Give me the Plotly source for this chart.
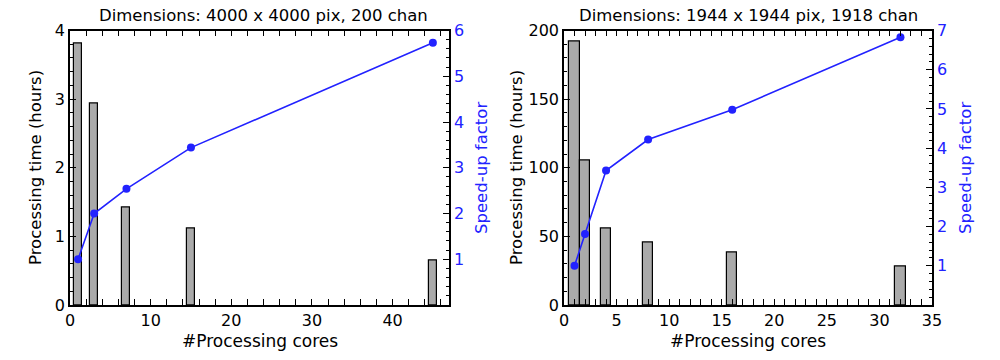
import plotly.graph_objects as go
from plotly.subplots import make_subplots

# Left panel: 4000 x 4000 pix, 200 chan
cores_a = [1, 3, 7, 15, 45]
time_a = [3.81, 2.93, 1.42, 1.11, 0.65]
speed_a = [1.0, 2.0, 2.54, 3.44, 5.73]

# Right panel: 1944 x 1944 pix, 1918 chan
cores_b = [1, 2, 4, 8, 16, 32]
time_b = [192, 105, 56, 45.5, 38.5, 28]
speed_b = [1.0, 1.81, 3.43, 4.22, 4.98, 6.83]

titles = ["Dimensions: 4000 x 4000 pix, 200 chan",
          "Dimensions: 1944 x 1944 pix, 1918 chan"]

FONT = "DejaVu Sans"
BLUE = "#2222ff"
BAR = "#aaaaaa"

W, H = 1000, 360


def fx(px):
    return px / W


def fy(py):
    return 1 - py / H


fig = make_subplots(rows=1, cols=2, specs=[[{"secondary_y": True}, {"secondary_y": True}]])

for col, (cx, tt, sp) in enumerate([(cores_a, time_a, speed_a), (cores_b, time_b, speed_b)], start=1):
    fig.add_trace(go.Bar(x=cx, y=tt, width=1, marker=dict(color=BAR, line=dict(color="black", width=1.2)),
                         showlegend=False), row=1, col=col, secondary_y=False)
    fig.add_trace(go.Scatter(x=cx, y=sp, mode="lines+markers", line=dict(color=BLUE, width=1.6),
                             marker=dict(color=BLUE, size=8), showlegend=False),
                  row=1, col=col, secondary_y=True)

ydom = [fy(305), fy(30.5)]
tickfont = dict(family=FONT, size=16, color="black")
common_axis = dict(showgrid=False, zeroline=False, showline=True, linecolor="black", linewidth=1.5,
                   ticks="inside", ticklen=6, tickwidth=1.2, tickcolor="black", tickfont=tickfont,
                   automargin=False)
blue_axis = {**common_axis, "tickfont": dict(family=FONT, size=16, color=BLUE)}

fig.update_layout(
    width=W, height=H, margin=dict(l=0, r=0, t=0, b=0, autoexpand=False),
    paper_bgcolor="white", plot_bgcolor="white", bargap=0,
    font=dict(family=FONT, size=16, color="black"),
    xaxis=dict(domain=[fx(70), fx(449)], range=[0, 47], dtick=10, mirror="allticks",
               minor=dict(dtick=2, ticks="inside", ticklen=3, tickcolor="black"), **common_axis),
    yaxis=dict(domain=ydom, range=[0, 4], dtick=1,
               minor=dict(dtick=0.2, ticks="inside", ticklen=3, tickcolor="black"), **common_axis),
    yaxis2=dict(range=[0, 6], tickvals=[1, 2, 3, 4, 5, 6], side="right", overlaying="y",
                minor=dict(dtick=0.2, ticks="inside", ticklen=3, tickcolor="black"), **blue_axis),
    xaxis2=dict(domain=[fx(564), fx(932)], range=[0, 35], dtick=5, mirror="allticks",
                minor=dict(dtick=1, ticks="inside", ticklen=3, tickcolor="black"), **common_axis),
    yaxis3=dict(domain=ydom, range=[0, 200], dtick=50,
                minor=dict(dtick=10, ticks="inside", ticklen=3, tickcolor="black"), **common_axis),
    yaxis4=dict(range=[0, 7], tickvals=[1, 2, 3, 4, 5, 6, 7], side="right", overlaying="y3",
                minor=dict(dtick=0.2, ticks="inside", ticklen=3, tickcolor="black"), **blue_axis),
)

annotations = [
    dict(text=titles[0], x=263, y=16, size=16.5, angle=0, color="black"),
    dict(text=titles[1], x=748, y=16, size=16.5, angle=0, color="black"),
    dict(text="#Processing cores", x=260, y=341, size=17, angle=0, color="black"),
    dict(text="#Processing cores", x=748, y=341, size=17, angle=0, color="black"),
    dict(text="Processing time (hours)", x=35, y=168, size=16.5, angle=-90, color="black"),
    dict(text="Processing time (hours)", x=516, y=168, size=16.5, angle=-90, color="black"),
    dict(text="Speed-up factor", x=481, y=168, size=16.5, angle=-90, color=BLUE),
    dict(text="Speed-up factor", x=965, y=168, size=16.5, angle=-90, color=BLUE),
]
for a in annotations:
    fig.add_annotation(text=a["text"], x=fx(a["x"]), y=fy(a["y"]), xref="paper", yref="paper",
                       showarrow=False, textangle=a["angle"], xanchor="center", yanchor="middle",
                       font=dict(family=FONT, size=a["size"], color=a["color"]))

fig.write_html("out.html", config={"displayModeBar": False},
               post_script="document.body.style.margin='0';")
